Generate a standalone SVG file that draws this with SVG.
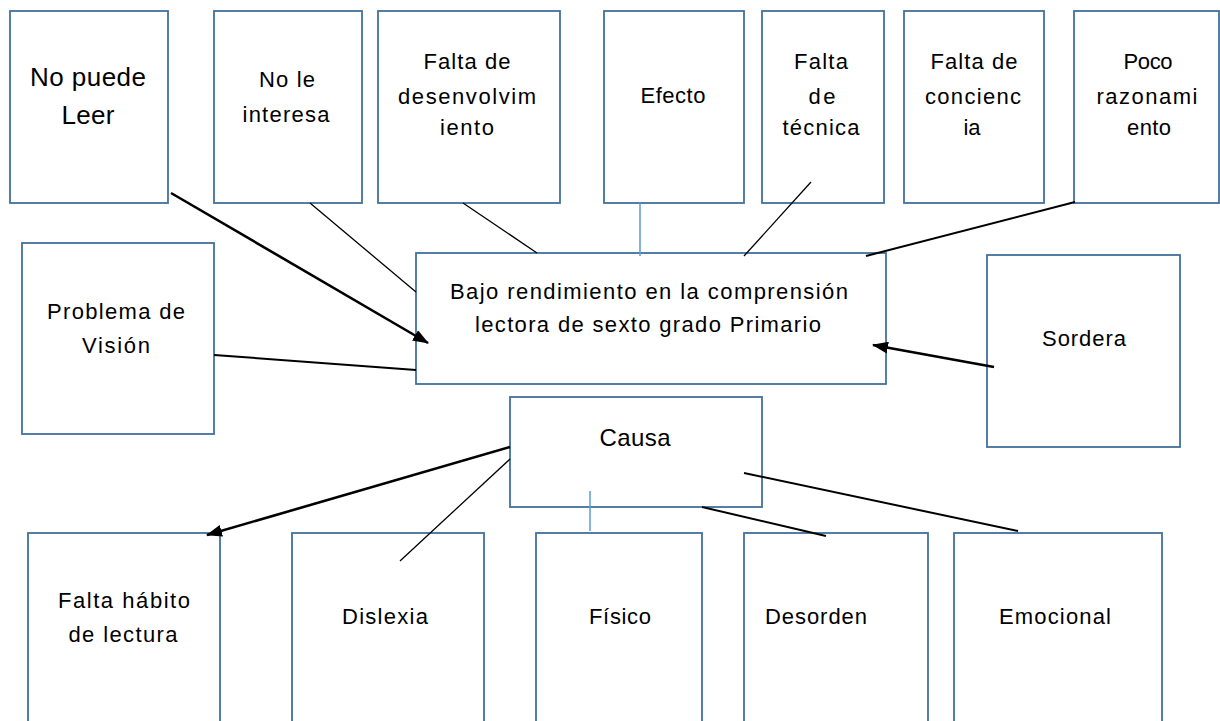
<svg xmlns="http://www.w3.org/2000/svg" width="1220" height="721" viewBox="0 0 1220 721">
<style>
.box{fill:#ffffff;stroke:#41719c;stroke-width:1.8}
text{font-family:"Liberation Sans",Arial,sans-serif;font-size:22px;fill:#000;text-anchor:middle}
.big{font-size:26px}
.cau{font-size:24px}
.thin{stroke:#000;stroke-width:1.3;fill:none}
.med{stroke:#000;stroke-width:2;fill:none}
.thick{stroke:#000;stroke-width:2.6;fill:none}
.blue{stroke:#5b9bd5;stroke-width:1.5;fill:none}
</style>
<defs>
<marker id="ah" viewBox="0 0 16 12" refX="15" refY="6" markerWidth="16" markerHeight="12" markerUnits="userSpaceOnUse" orient="auto">
<path d="M0,0 L16,6 L0,12 Z" fill="#000"/>
</marker>
</defs>
<rect width="1220" height="721" fill="#fff"/>
<g id="n-nopuede"><rect class="box" x="10" y="11" width="158" height="192"/>
<text class="big" x="88" y="86" textLength="116" lengthAdjust="spacing">No puede</text>
<text class="big" x="88" y="124" textLength="53" lengthAdjust="spacing">Leer</text></g>
<g id="n-nointeresa"><rect class="box" x="214" y="11" width="148" height="192"/>
<text x="287" y="87" textLength="56" lengthAdjust="spacing">No le</text>
<text x="286" y="122" textLength="87" lengthAdjust="spacing">interesa</text></g>
<g id="n-desenv"><rect class="box" x="378" y="11" width="182" height="192"/>
<text x="467" y="69" textLength="87" lengthAdjust="spacing">Falta de</text>
<text x="467" y="104" textLength="138" lengthAdjust="spacing">desenvolvim</text>
<text x="467" y="135" textLength="54" lengthAdjust="spacing">iento</text></g>
<g id="n-efecto"><rect class="box" x="604" y="11" width="140" height="192"/>
<text x="673" y="103" textLength="65" lengthAdjust="spacing">Efecto</text></g>
<g id="n-tecnica"><rect class="box" x="762" y="11" width="122" height="192"/>
<text x="821" y="69" textLength="54" lengthAdjust="spacing">Falta</text>
<text x="822" y="104" textLength="27" lengthAdjust="spacing">de</text>
<text x="821" y="135" textLength="77" lengthAdjust="spacing">técnica</text></g>
<g id="n-conciencia"><rect class="box" x="904" y="11" width="140" height="192"/>
<text x="974" y="69" textLength="87" lengthAdjust="spacing">Falta de</text>
<text x="973" y="104" textLength="96" lengthAdjust="spacing">concienc</text>
<text x="972" y="135" textLength="17" lengthAdjust="spacing">ia</text></g>
<g id="n-razon"><rect class="box" x="1074" y="11" width="145" height="192"/>
<text x="1148" y="69" textLength="49" lengthAdjust="spacing">Poco</text>
<text x="1147" y="104" textLength="101" lengthAdjust="spacing">razonami</text>
<text x="1149" y="135" textLength="44" lengthAdjust="spacing">ento</text></g>
<g id="n-vision"><rect class="box" x="22" y="243" width="192" height="191"/>
<text x="116" y="319" textLength="138" lengthAdjust="spacing">Problema de</text>
<text x="116" y="353" textLength="68" lengthAdjust="spacing">Visión</text></g>
<g id="n-bajo"><rect class="box" x="416" y="253" width="470" height="131"/>
<text x="649" y="299" textLength="398" lengthAdjust="spacing">Bajo rendimiento en la comprensión</text>
<text x="648" y="332" textLength="346" lengthAdjust="spacing">lectora de sexto grado Primario</text></g>
<g id="n-sordera"><rect class="box" x="987" y="255" width="193" height="192"/>
<text x="1084" y="346" textLength="84" lengthAdjust="spacing">Sordera</text></g>
<g id="n-causa"><rect class="box" x="510" y="397" width="252" height="110"/>
<text class="cau" x="635" y="446" textLength="71" lengthAdjust="spacing">Causa</text></g>
<g id="n-habito"><rect class="box" x="28" y="533" width="192" height="200"/>
<text x="124" y="608" textLength="132" lengthAdjust="spacing">Falta hábito</text>
<text x="123" y="642" textLength="109" lengthAdjust="spacing">de lectura</text></g>
<g id="n-dislexia"><rect class="box" x="292" y="533" width="192" height="200"/>
<text x="385" y="624" textLength="86" lengthAdjust="spacing">Dislexia</text></g>
<g id="n-fisico"><rect class="box" x="536" y="533" width="166" height="200"/>
<text x="620" y="624" textLength="62" lengthAdjust="spacing">Físico</text></g>
<g id="n-desorden"><rect class="box" x="744" y="533" width="184" height="200"/>
<text x="816" y="624" textLength="102" lengthAdjust="spacing">Desorden</text></g>
<g id="n-emocional"><rect class="box" x="954" y="533" width="208" height="200"/>
<text x="1055" y="624" textLength="112" lengthAdjust="spacing">Emocional</text></g>
<g id="connectors">
<line class="thick" x1="171" y1="193" x2="428" y2="343" marker-end="url(#ah)"/>
<line class="thin" x1="310" y1="203" x2="416" y2="292"/>
<line class="thin" x1="463" y1="203" x2="537" y2="253"/>
<line class="blue" x1="640" y1="203" x2="640" y2="256"/>
<line class="thin" x1="811" y1="182" x2="744" y2="256"/>
<line class="med" x1="1075" y1="202" x2="866" y2="256"/>
<line class="med" x1="214" y1="355" x2="416" y2="370"/>
<line class="thick" x1="994" y1="367" x2="873" y2="345" marker-end="url(#ah)"/>
<line class="thick" x1="510" y1="447" x2="207" y2="535" marker-end="url(#ah)"/>
<line class="thin" x1="510" y1="459" x2="400" y2="561"/>
<line class="blue" x1="590" y1="491" x2="590" y2="531"/>
<line class="med" x1="702" y1="507" x2="826" y2="536"/>
<line class="med" x1="744" y1="473" x2="1018" y2="531"/>
</g>
</svg>
